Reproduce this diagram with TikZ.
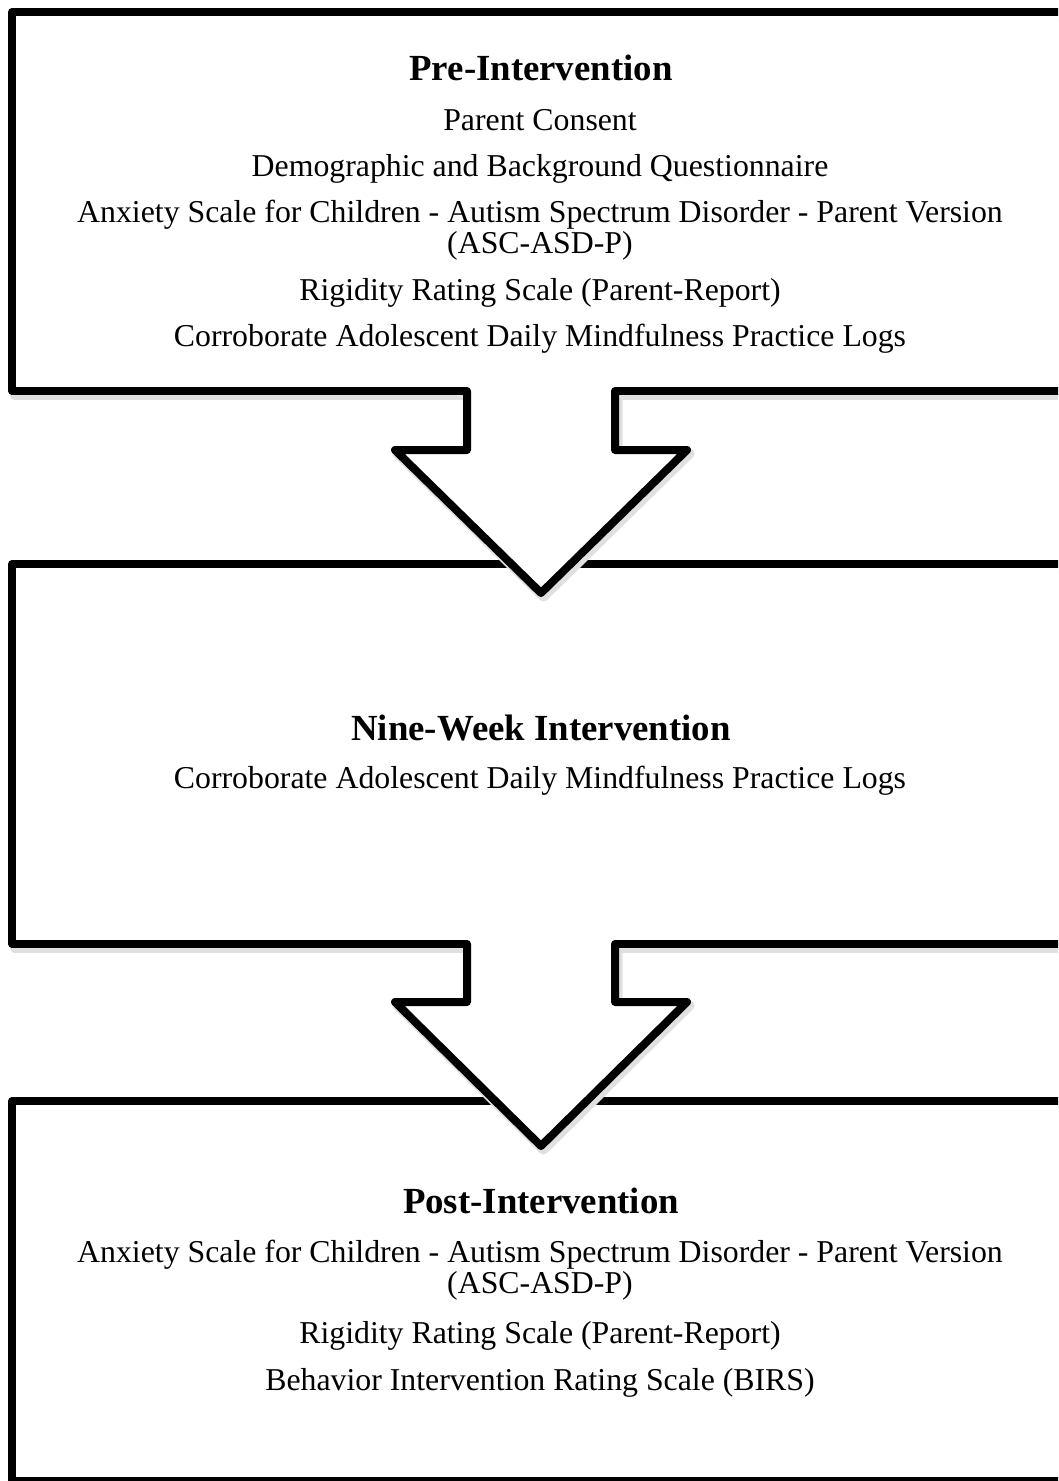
\documentclass[tikz,border=0pt]{standalone}
\usepackage{fontspec}
\setmainfont{Liberation Serif}
\begin{document}
\begin{tikzpicture}[x=1pt,y=-1pt,
  boxline/.style={line width=8pt,line join=round,line cap=round,draw=black},
  shadowline/.style={line width=10pt,line join=round,draw=black!12},
  ttl/.style={anchor=base,inner sep=0pt,font=\fontsize{36.8}{38}\selectfont\bfseries},
  itm/.style={anchor=base,inner sep=0pt,font=\fontsize{31.8}{31}\selectfont}]
\useasboundingbox (0,0) rectangle (1058,1481);
\clip (0,0) rectangle (1058,1481);
% shadows
\begin{scope}[shift={(2.5,3.5)}]
  \draw[shadowline] (12,12) rectangle (1070,391);
  \draw[shadowline] (12,564) rectangle (1070,944);
  \draw[shadowline] (12,1101) rectangle (1070,1481);
\end{scope}
% boxes
\draw[boxline,fill=white] (12,12) rectangle (1070,391);
\draw[boxline,fill=white] (12,564) rectangle (1070,944);
\draw[boxline,fill=white] (12,1101) rectangle (1070,1481);
% arrows
\foreach \t/\w/\p/\nm in {391/450/593/arrA, 944/1002/1146/arrB}{
  \draw[shadowline,shift={(2.5,3.5)}] (467,\t+5) -- (467,\w) -- (395,\w) -- (541,\p) -- (687,\w) -- (615,\w) -- (615,\t+5);
  \fill[white] (467,\t-4.5) -- (467,\w) -- (395,\w) -- (541,\p) -- (687,\w) -- (615,\w) -- (615,\t-4.5) -- cycle;
  \draw[boxline] (467,\t) -- (467,\w) -- (395,\w) -- (541,\p) -- (687,\w) -- (615,\w) -- (615,\t);
  \coordinate (\nm) at (541,\p);
}
% texts box 1
\node[ttl] (t1) at (541,80) {Pre-Intervention};
\node[itm] (a1) at (540,130) {Parent Consent};
\node[itm] (a2) at (540,176) {Demographic and Background Questionnaire};
\node[itm] (a3) at (540,222) {Anxiety Scale for Children - Autism Spectrum Disorder - Parent Version};
\node[itm] (a4) at (540,253) {(ASC-ASD-P)};
\node[itm] (a5) at (540,300) {Rigidity Rating Scale (Parent-Report)};
\node[itm] (a6) at (540,346) {Corroborate Adolescent Daily Mindfulness Practice Logs};
% texts box 2
\node[ttl] (t2) at (541,740) {Nine-Week Intervention};
\node[itm] (b1) at (540,788) {Corroborate Adolescent Daily Mindfulness Practice Logs};
% texts box 3
\node[ttl] (t3) at (541,1213) {Post-Intervention};
\node[itm] (c1) at (540,1262) {Anxiety Scale for Children - Autism Spectrum Disorder - Parent Version};
\node[itm] (c2) at (540,1293) {(ASC-ASD-P)};
\node[itm] (c3) at (540,1343) {Rigidity Rating Scale (Parent-Report)};
\node[itm] (c4) at (540,1390) {Behavior Intervention Rating Scale (BIRS)};
\end{tikzpicture}
\end{document}
